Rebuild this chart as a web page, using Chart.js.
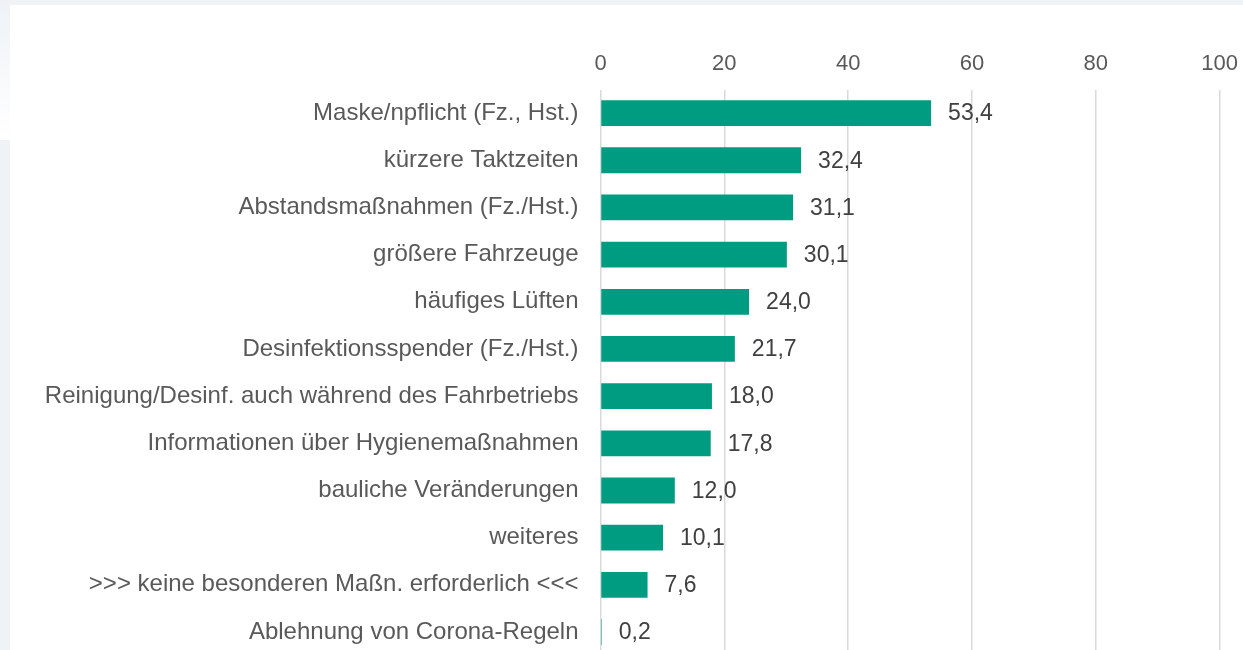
<!DOCTYPE html>
<html>
<head>
<meta charset="utf-8">
<script src="https://cdn.jsdelivr.net/npm/chart.js@4"></script>
<style>
  html, body { margin: 0; padding: 0; width: 1243px; height: 650px; overflow: hidden; background: #eff3f6; }
  #side { position: absolute; left: 0; top: 0; width: 10px; height: 140px; background: linear-gradient(#eef2f6, #ffffff); }
  #card { position: absolute; left: 10px; top: 5px; right: 0; bottom: 0; background: #fff; }
  #chart { position: absolute; left: 0; top: 0; }
</style>
</head>
<body>
<div id="side"></div>
<div id="card"></div>
<canvas id="chart" width="1250" height="692"></canvas>
<script>
// Maßnahmen (Anteil in %)
const categories = [
    "Maske/npflicht (Fz., Hst.)",
    "kürzere Taktzeiten",
    "Abstandsmaßnahmen (Fz./Hst.)",
    "größere Fahrzeuge",
    "häufiges Lüften",
    "Desinfektionsspender (Fz./Hst.)",
    "Reinigung/Desinf. auch während des Fahrbetriebs",
    "Informationen über Hygienemaßnahmen",
    "bauliche Veränderungen",
    "weiteres",
    ">>> keine besonderen Maßn. erforderlich <<<",
    "Ablehnung von Corona-Regeln"
];
const values = [53.4, 32.4, 31.1, 30.1, 24.0, 21.7, 18.0, 17.8, 12.0, 10.1, 7.6, 0.2];
const xTicks = [0, 20, 40, 60, 80, 100];

const fontFamily = '"Liberation Sans", Arial, sans-serif';

// value labels right of each bar, German decimal comma
const valueLabels = {
    id: 'valueLabels',
    afterDatasetsDraw(chart) {
        const ctx = chart.ctx;
        const meta = chart.getDatasetMeta(0);
        ctx.save();
        ctx.font = '23px ' + fontFamily;
        ctx.fillStyle = '#404040';
        ctx.textAlign = 'left';
        ctx.textBaseline = 'middle';
        meta.data.forEach((bar, i) => {
            const txt = values[i].toFixed(1).replace('.', ',');
            ctx.fillText(txt, bar.x + 17, bar.y + 1);
        });
        ctx.restore();
    }
};

new Chart(document.getElementById('chart'), {
    type: 'bar',
    data: {
        labels: categories,
        datasets: [{
            data: values,
            backgroundColor: '#009c82',
            borderWidth: 0,
            barPercentage: 0.547,
            categoryPercentage: 1
        }]
    },
    options: {
        indexAxis: 'y',
        responsive: false,
        animation: false,
        devicePixelRatio: 1,
        layout: { padding: { top: 51, right: 24, bottom: 5.5, left: 0 } },
        plugins: {
            legend: { display: false },
            tooltip: { enabled: false }
        },
        scales: {
            x: {
                position: 'top',
                min: 0,
                max: 100,
                afterBuildTicks: (scale) => { scale.ticks = xTicks.map(v => ({ value: v })); },
                afterFit: (scale) => { scale.height = 38.5; },
                grid: { color: '#d9d9d9', lineWidth: 1.5, drawTicks: false },
                border: { display: false },
                ticks: {
                    color: '#595959',
                    font: { family: fontFamily, size: 22 },
                    padding: 12
                }
            },
            y: {
                afterFit: (scale) => { scale.width = 600.5; },
                grid: { display: false, drawTicks: false },
                border: { display: false },
                ticks: {
                    color: '#595959',
                    font: { family: fontFamily, size: 24 },
                    padding: 22
                }
            }
        }
    },
    plugins: [valueLabels]
});
</script>
</body>
</html>
